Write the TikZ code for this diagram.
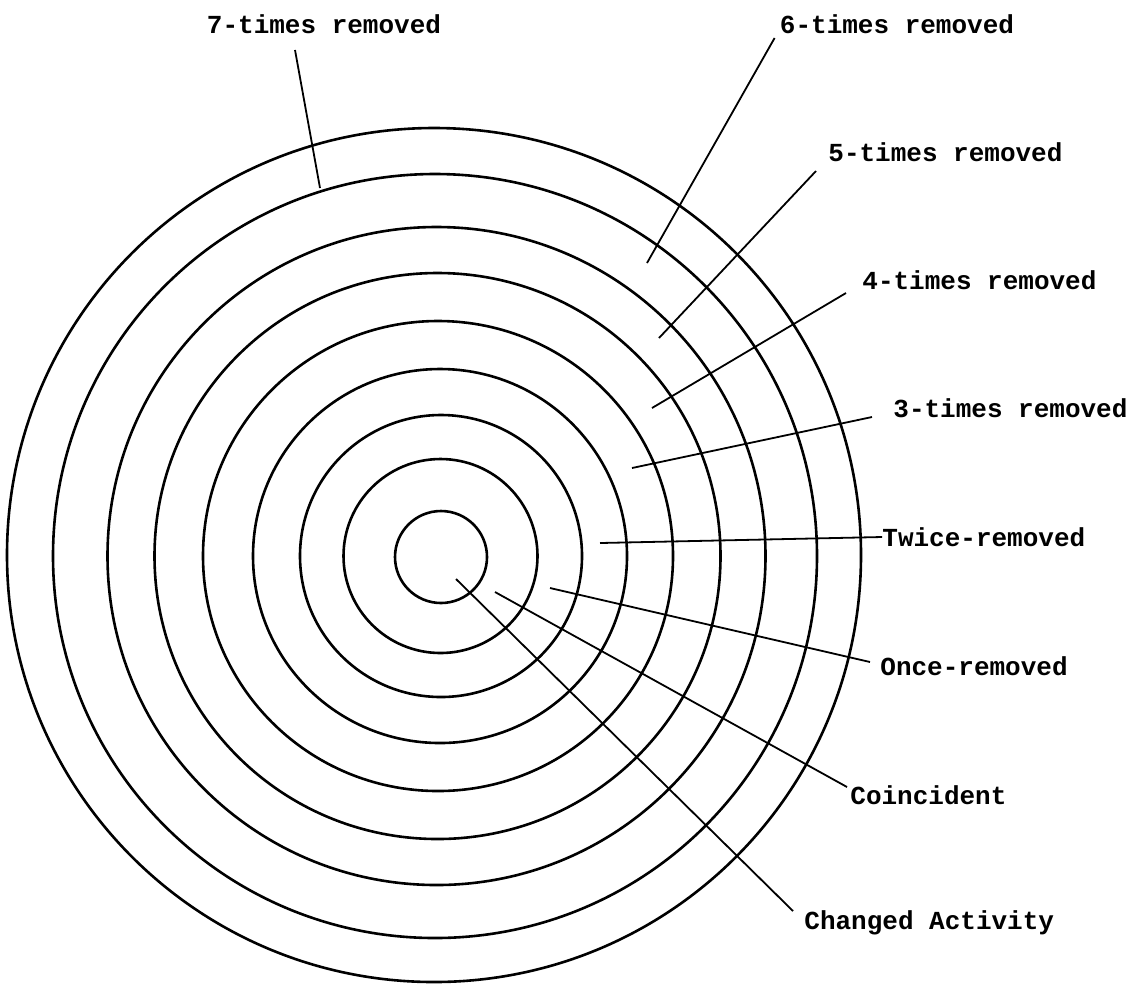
\documentclass[tikz,border=0pt]{standalone}
\usepackage{fontspec}
\setmonofont{Liberation Mono}
\begin{document}
\begin{tikzpicture}[x=0.5pt,y=-0.5pt,
  ring/.style={line width=1.3pt},
  lead/.style={line width=0.9pt},
  lbl/.style={inner sep=0pt,font=\ttfamily\bfseries\fontsize{13}{15}\selectfont}]
\path[use as bounding box] (0,0) rectangle (1143,987);
\draw[ring] (434,555) circle (427);
\draw[ring] (435,556) circle (382);
\draw[ring] (436.5,556) circle (329);
\draw[ring] (437.5,556) circle (283);
\draw[ring] (438,556) circle (235);
\draw[ring] (440,556) circle (187);
\draw[ring] (441,556) circle (141);
\draw[ring] (440.5,556) circle (97);
\draw[ring] (441,557) circle (46);
\coordinate (p7) at (320,188);
\coordinate (p6) at (647,263);
\coordinate (p5) at (659,338);
\coordinate (p4) at (652,408);
\coordinate (p3) at (632,468);
\coordinate (p2) at (600,543);
\coordinate (p1) at (550,588);
\coordinate (p0) at (495,592);
\coordinate (pa) at (456,579);
\node[lbl,anchor=center] (t7) at (324,24) {7-times removed};
\node[lbl,anchor=center] (t6) at (897,24) {6-times removed};
\node[lbl,anchor=west] (t5) at (828,152) {5-times removed};
\node[lbl,anchor=west] (t4) at (862,280) {4-times removed};
\node[lbl,anchor=west] (t3) at (893,408) {3-times removed};
\node[lbl,anchor=west] (t2) at (882,537) {Twice-removed};
\node[lbl,anchor=west] (t1) at (880,666) {Once-removed};
\node[lbl,anchor=west] (t0) at (850,795) {Coincident};
\node[lbl,anchor=west] (ta) at (804,923) {Changed Activity};
\draw[lead] (p7) -- ([shift={(-14.5pt,-8pt)}]t7.south);
\draw[lead] (p6) -- ([shift={(-2.5pt,-7pt)}]t6.west);
\draw[lead] (p5) -- ([shift={(-6pt,-9.5pt)}]t5.west);
\draw[lead] (p4) -- ([shift={(-8pt,-6.5pt)}]t4.west);
\draw[lead] (p3) -- ([shift={(-10.5pt,-4.5pt)}]t3.west);
\draw[lead] (p2) -- (t2.west);
\draw[lead] (p1) -- ([shift={(-5pt,2pt)}]t1.west);
\draw[lead] (p0) -- ([shift={(-1.5pt,4pt)}]t0.west);
\draw[lead] (pa) -- ([shift={(-5.5pt,6pt)}]ta.west);
\end{tikzpicture}
\end{document}
